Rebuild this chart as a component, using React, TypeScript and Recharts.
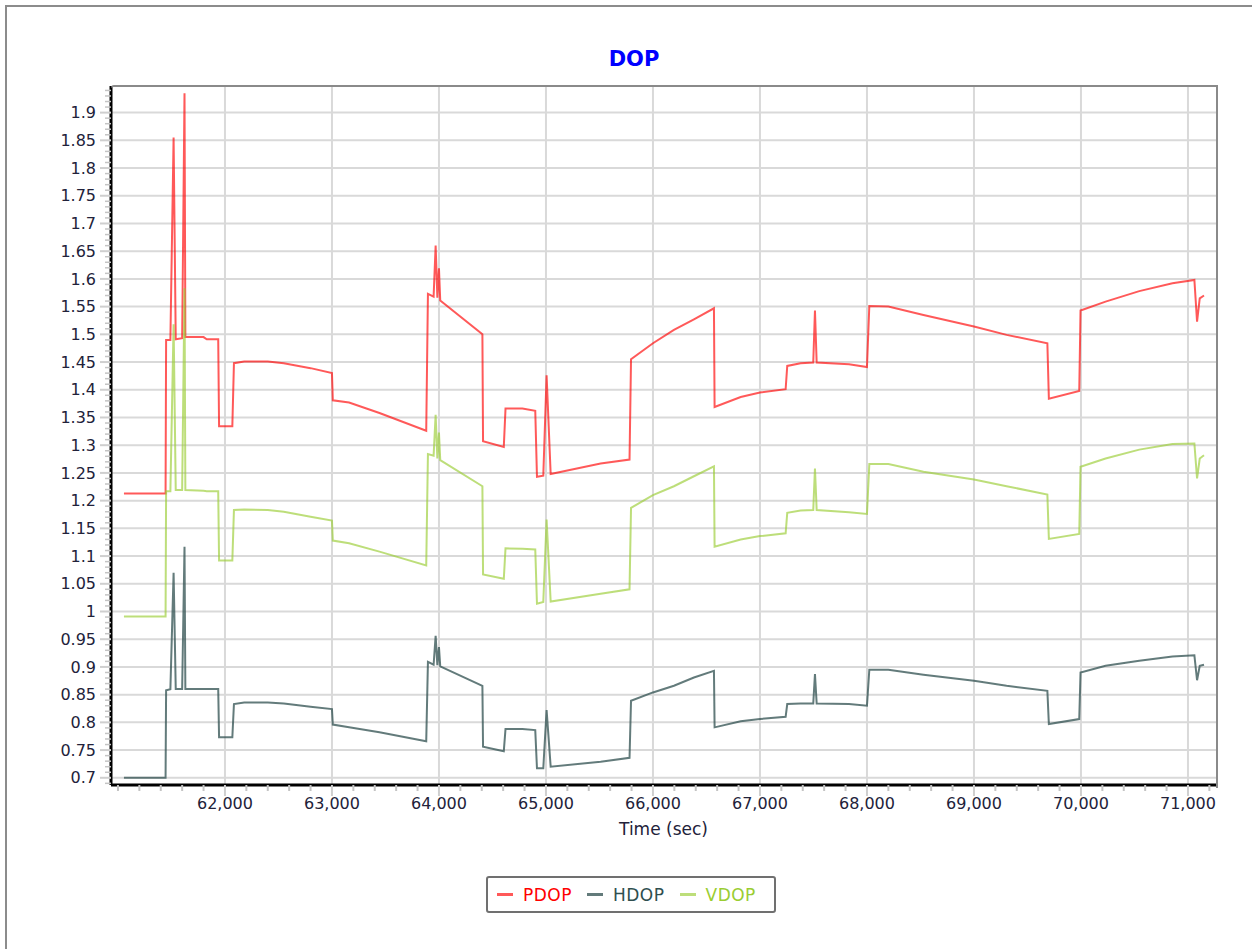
import { LineChart, Line, XAxis, YAxis, CartesianGrid } from 'recharts';

const TIME = [
  61056, 61445, 61450, 61490, 61520, 61540, 61600, 61622, 61630, 61800, 61830, 61937, 61945, 62069,
  62084, 62180, 62400, 62550, 62800, 63000, 63008, 63160, 63444, 63881, 63897, 63950, 63969, 63985,
  64000, 64012, 64406, 64412, 64606, 64622, 64780, 64900, 64916, 64975, 65006, 65044, 65511, 65781,
  65795, 66000, 66196, 66383, 66570, 66576, 66820, 67000, 67240, 67255, 67380, 67498, 67514, 67530,
  67832, 68000, 68022, 68200, 68528, 69000, 69305, 69686, 69700, 69984, 69996, 70230, 70545, 70855,
  71060, 71085, 71110, 71150,
];

const PDOP = [
  1.213, 1.213, 1.49, 1.49, 1.855, 1.491, 1.493, 1.935, 1.495, 1.495, 1.491, 1.491, 1.334, 1.334,
  1.448, 1.451, 1.451, 1.448, 1.439, 1.43, 1.381, 1.377, 1.358, 1.326, 1.573, 1.568, 1.66, 1.566,
  1.619, 1.561, 1.5, 1.307, 1.297, 1.366, 1.366, 1.362, 1.243, 1.245, 1.426, 1.248, 1.267, 1.274,
  1.455, 1.484, 1.508, 1.527, 1.547, 1.369, 1.387, 1.395, 1.401, 1.443, 1.448, 1.449, 1.543, 1.449,
  1.446, 1.441, 1.551, 1.55, 1.535, 1.514, 1.499, 1.484, 1.384, 1.398, 1.543, 1.559, 1.578, 1.592,
  1.598, 1.523, 1.565, 1.57,
];

const HDOP = [
  0.7, 0.7, 0.858, 0.86, 1.07, 0.86, 0.86, 1.117, 0.86, 0.86, 0.86, 0.86, 0.773, 0.773,
  0.833, 0.836, 0.836, 0.834, 0.828, 0.824, 0.796, 0.791, 0.782, 0.766, 0.909, 0.904, 0.956, 0.903,
  0.936, 0.901, 0.866, 0.756, 0.748, 0.788, 0.788, 0.786, 0.717, 0.717, 0.822, 0.72, 0.729, 0.736,
  0.839, 0.854, 0.866, 0.881, 0.893, 0.791, 0.802, 0.806, 0.81, 0.833, 0.834, 0.834, 0.887, 0.834,
  0.833, 0.83, 0.895, 0.895, 0.886, 0.875, 0.866, 0.857, 0.797, 0.806, 0.89, 0.902, 0.911, 0.919,
  0.921, 0.876, 0.902, 0.904,
];

const VDOP = [
  0.991, 0.991, 1.217, 1.217, 1.518, 1.219, 1.219, 1.583, 1.219, 1.218, 1.217, 1.217, 1.092, 1.092,
  1.183, 1.184, 1.183, 1.18, 1.171, 1.164, 1.128, 1.123, 1.108, 1.083, 1.284, 1.281, 1.355, 1.276,
  1.323, 1.273, 1.226, 1.067, 1.059, 1.114, 1.113, 1.112, 1.014, 1.017, 1.166, 1.018, 1.032, 1.04,
  1.187, 1.21, 1.226, 1.244, 1.262, 1.117, 1.13, 1.136, 1.141, 1.178, 1.182, 1.183, 1.258, 1.183,
  1.179, 1.176, 1.266, 1.266, 1.252, 1.238, 1.226, 1.211, 1.131, 1.14, 1.261, 1.276, 1.292, 1.302,
  1.303, 1.24, 1.276, 1.282,
];

const X_TICKS = [62000, 63000, 64000, 65000, 66000, 67000, 68000, 69000, 70000, 71000];
const Y_TICKS = [
  0.7, 0.75, 0.8, 0.85, 0.9, 0.95, 1, 1.05, 1.1, 1.15, 1.2, 1.25, 1.3, 1.35, 1.4, 1.45, 1.5, 1.55,
  1.6, 1.65, 1.7, 1.75, 1.8, 1.85, 1.9,
];
const X_DOMAIN: [number, number] = [60935, 71262];
const Y_DOMAIN: [number, number] = [0.687, 1.948];

// minor tick marks: every 200 s on x, every 0.01 on y (majors are among them)
const X_MINOR = Array.from({ length: 52 }, (_, i) => 61000 + i * 200);
const Y_MINOR = Array.from({ length: 126 }, (_, i) => +(0.69 + i * 0.01).toFixed(2));

const SERIES = [
  { key: 'pdop', name: 'PDOP', color: '#ff0000', opacity: 0.65 },
  { key: 'hdop', name: 'HDOP', color: '#2f4f4f', opacity: 0.75 },
  { key: 'vdop', name: 'VDOP', color: '#9acd32', opacity: 0.65 },
];

const data = TIME.map((t, i) => ({ t, pdop: PDOP[i], hdop: HDOP[i], vdop: VDOP[i] }));

const FONT = '"DejaVu Sans", Verdana, sans-serif';
const TEXT = '#22223a';
const GRID = '#d9d9d9';
const TICK_GRAY = '#c4c4c4';
const TICK_SIZE = 10;
const TICK_MARGIN = 5;

const isMajorY = (v: number) => Y_TICKS.some((t) => Math.abs(t - v) < 1e-6);
const isMajorX = (v: number) => X_TICKS.includes(v);

function YTick(props: any) {
  const { x, y, payload } = props;
  const axisX = x + TICK_SIZE + TICK_MARGIN;
  const major = isMajorY(payload.value);
  return (
    <g>
      <line
        x1={axisX - (major ? 11 : 6)}
        x2={axisX}
        y1={y}
        y2={y}
        stroke={major ? '#cfcfcf' : TICK_GRAY}
        strokeWidth={major ? 2 : 1.5}
      />
      {major && (
        <text x={x} y={y} dy="0.355em" textAnchor="end" fill={TEXT} fontSize={16} fontFamily={FONT}>
          {String(+payload.value.toFixed(2))}
        </text>
      )}
    </g>
  );
}

function XTick(props: any) {
  const { x, y, payload } = props;
  const axisY = y - TICK_SIZE - 3;
  const major = isMajorX(payload.value);
  return (
    <g>
      <line
        x1={x}
        x2={x}
        y1={axisY}
        y2={axisY + (major ? 11 : 6)}
        stroke={major ? '#cfcfcf' : TICK_GRAY}
        strokeWidth={2}
      />
      {major && (
        <text x={x} y={y} dy="0.71em" textAnchor="middle" fill={TEXT} fontSize={16} fontFamily={FONT}>
          {payload.value.toLocaleString('en-US')}
        </text>
      )}
    </g>
  );
}

function DopLegend() {
  return (
    <div
      style={{
        position: 'absolute',
        left: 486,
        top: 876,
        width: 290,
        height: 37,
        boxSizing: 'border-box',
        border: '2px solid #707070',
        borderRadius: 3,
        display: 'flex',
        alignItems: 'center',
        paddingLeft: 9,
        fontFamily: FONT,
        fontSize: 17,
      }}
    >
      {SERIES.map((s) => (
        <div key={s.key} style={{ display: 'flex', alignItems: 'center', marginRight: 15 }}>
          <span
            style={{
              display: 'inline-block',
              width: 16,
              height: 3,
              background: s.color,
              opacity: s.opacity,
              marginRight: 10,
            }}
          />
          <span style={{ color: s.color, letterSpacing: 0.5 }}>{s.name}</span>
        </div>
      ))}
    </div>
  );
}

export default function App() {
  return (
    <div
      style={{
        position: 'absolute',
        left: 0,
        top: 0,
        width: 1252,
        height: 949,
        overflow: 'hidden',
        background: '#fff',
        fontFamily: FONT,
      }}
    >
      <div
        style={{
          position: 'absolute',
          left: 5,
          top: 5,
          right: 0,
          bottom: 0,
          borderLeft: '2px solid #8c8c8c',
          borderTop: '2px solid #8c8c8c',
        }}
      />
      <div
        style={{
          position: 'absolute',
          left: 534,
          width: 200,
          top: 47,
          textAlign: 'center',
          color: '#0000ff',
          fontWeight: 'bold',
          fontSize: 21,
        }}
      >
        DOP
      </div>
      <div style={{ position: 'absolute', left: 0, top: 0 }}>
        <LineChart
          width={1252}
          height={949}
          data={data}
          margin={{ top: 86, right: 36, left: 51, bottom: 104 }}
        >
          <CartesianGrid
            stroke={GRID}
            strokeWidth={2}
            horizontalValues={Y_TICKS}
            verticalValues={X_TICKS}
          />
          <XAxis
            type="number"
            dataKey="t"
            domain={X_DOMAIN}
            allowDataOverflow
            ticks={X_MINOR.filter((v) => v > X_DOMAIN[0] && v < X_DOMAIN[1])}
            interval={0}
            height={60}
            tick={<XTick />}
            tickSize={TICK_SIZE}
            tickMargin={3}
            tickLine={false}
            axisLine={{ stroke: '#000', strokeWidth: 3 }}
            label={{
              value: 'Time (sec)',
              position: 'insideTop',
              offset: 38,
              fill: TEXT,
              fontSize: 17,
              fontFamily: FONT,
            }}
          />
          <YAxis
            type="number"
            domain={Y_DOMAIN}
            allowDataOverflow
            ticks={Y_MINOR.filter((v) => v > Y_DOMAIN[0] && v < Y_DOMAIN[1])}
            interval={0}
            width={60}
            tick={<YTick />}
            tickSize={TICK_SIZE}
            tickMargin={TICK_MARGIN}
            tickLine={false}
            axisLine={{ stroke: '#000', strokeWidth: 3 }}
          />
          {SERIES.map((s) => (
            <Line
              key={s.key}
              type="linear"
              dataKey={s.key}
              name={s.name}
              stroke={s.color}
              strokeOpacity={s.opacity}
              strokeWidth={2}
              dot={false}
              activeDot={false}
              isAnimationActive={false}
            />
          ))}
        </LineChart>
      </div>
      <div
        style={{
          position: 'absolute',
          left: 111,
          top: 85,
          width: 1107,
          height: 703,
          boxSizing: 'border-box',
          borderTop: '2px solid #8a8a8a',
          borderRight: '2px solid #8a8a8a',
          borderTopLeftRadius: 3,
          pointerEvents: 'none',
        }}
      />
      <DopLegend />
    </div>
  );
}
